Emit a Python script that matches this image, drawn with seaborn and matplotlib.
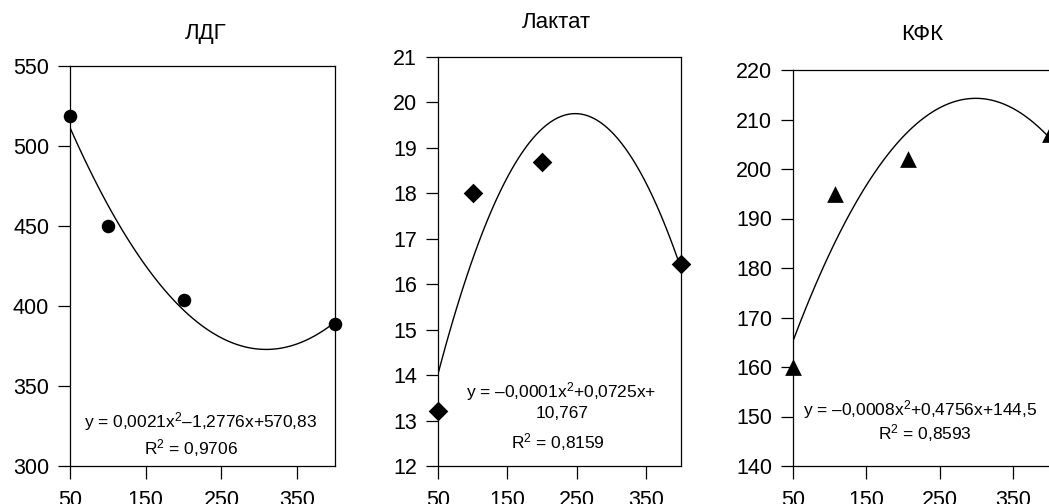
import numpy as np
import pandas as pd
import matplotlib
matplotlib.use("Agg")
import matplotlib.pyplot as plt
import seaborn as sns

# ---- data ----
x_ldh = [50, 100, 200, 400]
ldh = [519, 450, 404, 389]

x_lact = [50, 100, 200, 400]
lact = [13.2, 18.0, 18.7, 16.45]

x_kfk = [50, 107, 206, 400]
kfk = [160, 195, 202, 207]

titles = ["ЛДГ", "Лактат", "КФК"]
x_ticks = [50, 150, 250, 350]
y_ticks_ldh = [300, 350, 400, 450, 500, 550]
y_ticks_lact = [12, 13, 14, 15, 16, 17, 18, 19, 20, 21]
y_ticks_kfk = [140, 150, 160, 170, 180, 190, 200, 210, 220]

eq_ldh = [r"y = 0,0021x$^2$–1,2776x+570,83", r"R$^2$ = 0,9706"]
eq_lact = [r"y = –0,0001x$^2$+0,0725x+", "10,767", r"R$^2$ = 0,8159"]
eq_kfk = [r"y = –0,0008x$^2$+0,4756x+144,5", r"R$^2$ = 0,8593"]

sns.set_style("ticks")
plt.rcParams['font.family'] = ['Liberation Sans', 'DejaVu Sans']
plt.rcParams['mathtext.fontset'] = 'custom'
plt.rcParams['mathtext.rm'] = 'Liberation Sans'
plt.rcParams['mathtext.it'] = 'Liberation Sans'
plt.rcParams['mathtext.default'] = 'rm'
plt.rcParams['axes.linewidth'] = 0.9

fig = plt.figure(figsize=(10.49, 5.04), dpi=100)
W, H = 1049, 504

def axes_px(l, r, t, b):
    return fig.add_axes([l / W, (H - b) / H, (r - l) / W, (b - t) / H])

ax1 = axes_px(70, 335, 66, 466)
ax2 = axes_px(438, 681, 57, 466)
ax3 = axes_px(793, 1050, 70, 466)

panels = [
    (ax1, x_ldh, ldh, "o", 95, y_ticks_ldh, eq_ldh),
    (ax2, x_lact, lact, "D", 100, y_ticks_lact, eq_lact),
    (ax3, x_kfk, kfk, "^", 145, y_ticks_kfk, eq_kfk),
]

title_pos = [(206, 33), (556, 22), (922, 35)]

for i, (ax, xs, ys, mk, ms, yt, eq) in enumerate(panels):
    df = pd.DataFrame({"x": xs, "y": ys})
    sns.regplot(data=df, x="x", y="y", order=2, ci=None, ax=ax,
                marker=mk,
                scatter_kws={"s": ms, "color": "black", "alpha": 1.0,
                             "clip_on": False, "zorder": 5, "linewidths": 0},
                line_kws={"color": "black", "linewidth": 1.0})
    ax.set_xlim(50, 400)
    ax.set_ylim(yt[0], yt[-1])
    ax.set_xticks(x_ticks)
    ax.set_yticks(yt)
    ax.set_xlabel("")
    ax.set_ylabel("")
    ax.tick_params(axis="both", direction="out", length=9, width=0.9,
                   labelsize=15.5, colors="black")
    ax.tick_params(axis="x", pad=8)
    ax.tick_params(axis="y", pad=6)
    for s in ax.spines.values():
        s.set_visible(True)
        s.set_color("black")
    tx, ty = title_pos[i]
    fig.text(tx / W, (H - ty) / H, titles[i], ha="center", va="center",
             fontsize=16, color="black")

def place(cx, cy, text, size=12.5):
    fig.text(cx / W, (H - cy) / H, text, ha="center", va="center",
             fontsize=size, color="black")

place(201, 422, eq_ldh[0])
place(191, 448, eq_ldh[1])
place(561, 392, eq_lact[0])
place(562, 413, eq_lact[1])
place(558, 442, eq_lact[2])
place(920, 410, eq_kfk[0])
place(925, 433, eq_kfk[1])

fig.savefig("out.png", dpi=100)
